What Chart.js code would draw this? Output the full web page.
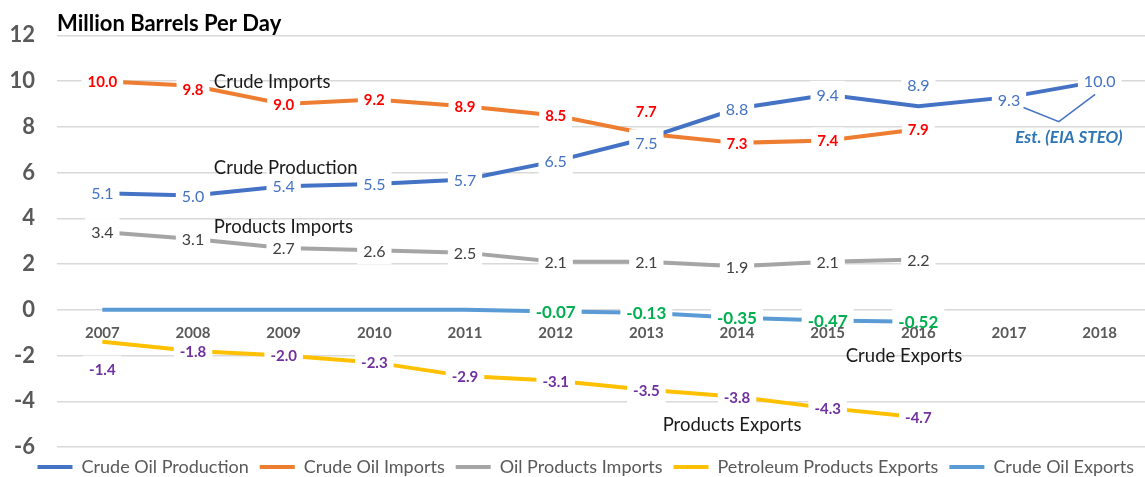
<!DOCTYPE html>
<html>
<head>
<meta charset="utf-8">
<script src="https://cdn.jsdelivr.net/npm/chart.js@4.4.1/dist/chart.umd.min.js"></script>
<style>
  html, body { margin: 0; padding: 0; background: #ffffff; }
  #wrap { width: 1145px; height: 477px; position: relative; }
</style>
</head>
<body>
<div id="wrap"><canvas id="c"></canvas></div>
<script>
// Annual U.S. oil balance, million barrels per day
const years = ['2007', '2008', '2009', '2010', '2011', '2012', '2013', '2014', '2015', '2016', '2017', '2018'];
const crudeProduction = [5.1, 5.0, 5.4, 5.5, 5.7, 6.5, 7.5, 8.8, 9.4, 8.9, 9.3, 10.0];
const crudeImports = [10.0, 9.8, 9.0, 9.2, 8.9, 8.5, 7.7, 7.3, 7.4, 7.9, null, null];
const productsImports = [3.4, 3.1, 2.7, 2.6, 2.5, 2.1, 2.1, 1.9, 2.1, 2.2, null, null];
const productsExports = [-1.4, -1.8, -2.0, -2.3, -2.9, -3.1, -3.5, -3.8, -4.3, -4.7, null, null];
const crudeExports = [0, 0, 0, 0, 0, -0.07, -0.13, -0.35, -0.47, -0.52, null, null];
const yTicks = [-6, -4, -2, 0, 2, 4, 6, 8, 10, 12];

const FONT = 'Lato';
Chart.defaults.font.family = FONT;

// Value-label look per series; dy nudges individual labels (pixels)
const labelStyles = {
  production: { color: '#4472C4', size: 16, weight: 'normal', digits: 1, dy: { 6: 5, 9: -21, 10: 3 } },
  imports:    { color: '#FF0000', size: 15, weight: 'bold',   digits: 1, dy: { 1: 3, 6: -23 } },
  prodImp:    { color: '#404040', size: 16, weight: 'normal', digits: 1, dy: {} },
  prodExp:    { color: '#7030A0', size: 15, weight: 'bold',   digits: 1, dy: { 0: 27 } },
  crudeExp:   { color: '#00B050', size: 17, weight: 'bold',   digits: 2, dy: {}, skipZero: true }
};

function series(label, data, color, style) {
  return {
    label, data,
    borderColor: color, backgroundColor: color,
    borderWidth: 4, pointRadius: 0, pointHoverRadius: 0,
    tension: 0, fill: false, spanGaps: false,
    valueLabel: style
  };
}

function eachLabel(chart, fn) {
  chart.data.datasets.forEach((ds, di) => {
    const st = ds.valueLabel;
    if (!st) return;
    const meta = chart.getDatasetMeta(di);
    ds.data.forEach((v, i) => {
      if (v === null || v === undefined) return;
      if (st.skipZero && v === 0) return;
      const pt = meta.data[i];
      const y = pt.y + (st.dy[i] || 0);
      fn(st, v.toFixed(st.digits), pt.x, y);
    });
  });
}

// Interpolated pixel position along the category axis (fractional index)
function catX(xs, f) {
  const i = Math.floor(f);
  const a = xs.getPixelForValue(i);
  const b = xs.getPixelForValue(i + 1);
  return a + (b - a) * (f - i);
}

// Keep the legend strip compact so the plot reaches further down
const LEGEND_HEIGHT = 30;
const legendHeightPlugin = {
  id: 'legendHeight',
  beforeLayout(chart) {
    const lg = chart.legend;
    if (lg && !lg._compact) {
      const fit = lg.fit;
      lg.fit = function () { fit.call(this); this.height = LEGEND_HEIGHT; };
      lg._compact = true;
    }
  }
};

const labelPlugin = {
  id: 'valueLabels',
  afterDatasetsDraw(chart) {
    const ctx = chart.ctx;
    ctx.save();
    eachLabel(chart, (st, txt, x, y) => {
      ctx.font = `${st.weight} ${st.size}px ${FONT}`;
      const w = ctx.measureText(txt).width + 12;
      const h = st.size * 1.75;
      ctx.fillStyle = '#ffffff';
      ctx.fillRect(x - w / 2, y - h / 2, w, h);
    });
    ctx.restore();
  },
  afterDraw(chart) {
    const ctx = chart.ctx;
    const xs = chart.scales.x, ys = chart.scales.y;
    ctx.save();
    ctx.textAlign = 'center';
    ctx.textBaseline = 'middle';
    eachLabel(chart, (st, txt, x, y) => {
      ctx.font = `${st.weight} ${st.size}px ${FONT}`;
      ctx.fillStyle = st.color;
      ctx.fillText(txt, x, y + 1);
    });

    // Series name callouts
    ctx.textAlign = 'left';
    ctx.fillStyle = '#1a1a1a';
    ctx.font = `normal 18.5px ${FONT}`;
    const notes = [
      ['Crude Imports', 1.23, 9.95],
      ['Crude Production', 1.23, 6.2],
      ['Products Imports', 1.23, 3.6],
      ['Crude Exports', 8.2, -2.0],
      ['Products Exports', 6.18, -5.05]
    ];
    notes.forEach(([t, f, v]) => ctx.fillText(t, catX(xs, f), ys.getPixelForValue(v)));

    // Estimate marker for the forecast years
    ctx.strokeStyle = '#4472C4';
    ctx.lineWidth = 1.5;
    ctx.beginPath();
    ctx.moveTo(catX(xs, 10.16), ys.getPixelForValue(8.85));
    ctx.lineTo(catX(xs, 10.55), ys.getPixelForValue(8.23));
    ctx.lineTo(catX(xs, 10.95), ys.getPixelForValue(9.42));
    ctx.stroke();
    ctx.fillStyle = '#2E75B6';
    ctx.font = `italic bold 17px ${FONT}`;
    ctx.fillText('Est. (EIA STEO)', catX(xs, 10.07), ys.getPixelForValue(7.55));
    ctx.restore();
  }
};

new Chart(document.getElementById('c'), {
  type: 'line',
  data: {
    labels: years,
    datasets: [
      series('Crude Oil Production', crudeProduction, '#4472C4', labelStyles.production),
      series('Crude Oil Imports', crudeImports, '#ED7D31', labelStyles.imports),
      series('Oil Products Imports', productsImports, '#A5A5A5', labelStyles.prodImp),
      series('Petroleum Products Exports', productsExports, '#FFC000', labelStyles.prodExp),
      series('Crude Oil Exports', crudeExports, '#5B9BD5', labelStyles.crudeExp)
    ]
  },
  options: {
    responsive: true,
    maintainAspectRatio: false,
    animation: false,
    devicePixelRatio: 1,
    layout: { padding: 0 },
    plugins: {
      tooltip: { enabled: false },
      title: {
        display: true,
        text: 'Million Barrels Per Day',
        align: 'start',
        fullSize: false,
        color: '#000000',
        font: { family: FONT, size: 22, weight: 'bold' },
        padding: { top: 11, bottom: -2 }
      },
      legend: {
        position: 'bottom',
        align: 'end',
        labels: {
          boxWidth: 35,
          boxHeight: 4,
          padding: 11,
          color: '#595959',
          font: { family: FONT, size: 18 },
          generateLabels(chart) {
            const items = Chart.defaults.plugins.legend.labels.generateLabels(chart);
            items.forEach(it => { it.fillStyle = it.strokeStyle; it.lineWidth = 0; });
            return items;
          }
        }
      }
    },
    scales: {
      x: {
        type: 'category',
        position: { y: 0 },
        offset: true,
        grid: { display: false, drawTicks: false },
        border: { display: false },
        ticks: {
          z: 1,
          color: '#595959',
          padding: 14,
          font: { family: FONT, size: 15, weight: 'bold' },
          maxRotation: 0,
          autoSkip: false
        }
      },
      y: {
        min: -6,
        max: 12,
        afterBuildTicks(scale) { scale.ticks = yTicks.map(v => ({ value: v })); },
        afterFit(scale) { scale.width = 57; },
        grid: {
          color: '#d9d9d9',
          lineWidth: 1.5,
          drawTicks: true,
          tickLength: 20,
          tickColor: 'rgba(0,0,0,0)'
        },
        border: { display: false },
        ticks: {
          color: '#595959',
          padding: 2,
          font: { family: FONT, size: 22, weight: 'bold' }
        }
      }
    }
  },
  plugins: [legendHeightPlugin, labelPlugin]
});
</script>
</body>
</html>
